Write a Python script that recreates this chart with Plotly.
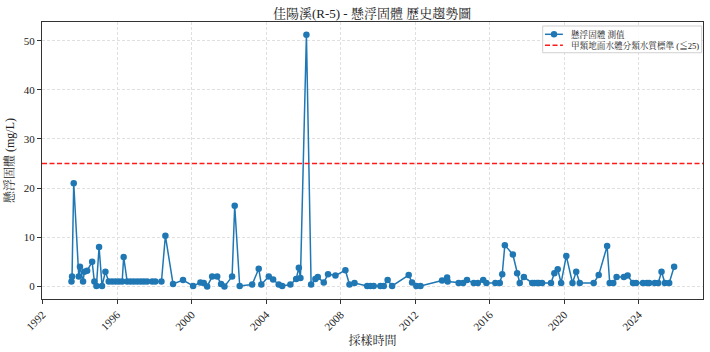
import plotly.graph_objects as go

dates = [
    "1993-07-20", "1993-07-31", "1993-09-02", "1993-12-10", "1994-01-02", "1994-03-04",
    "1994-03-29", "1994-05-23", "1994-08-29", "1994-10-12", "1994-11-21", "1995-01-12",
    "1995-03-11", "1995-05-16", "1995-07-20", "1995-09-24", "1995-11-28", "1996-02-03",
    "1996-04-09", "1996-05-08", "1996-07-16", "1996-09-20", "1996-11-24", "1997-01-30",
    "1997-04-06", "1997-06-07", "1997-08-11", "1997-11-18", "1998-01-19", "1998-05-19",
    "1998-08-04", "1999-01-01", "1999-07-16", "2000-01-30", "2000-06-21", "2000-08-26",
    "2000-10-31", "2001-02-06", "2001-05-16", "2001-07-31", "2001-10-05", "2002-03-04",
    "2002-04-24", "2002-07-31", "2003-04-02", "2003-08-08", "2003-09-28", "2004-02-21",
    "2004-05-16", "2004-09-02", "2004-11-10", "2005-04-20", "2005-08-11", "2005-10-02",
    "2005-11-03", "2006-02-28", "2006-05-31", "2006-08-22", "2006-10-09", "2007-02-03",
    "2007-04-28", "2007-09-20", "2008-04-02", "2008-06-21", "2008-09-28", "2009-06-03",
    "2009-08-08", "2009-10-09", "2010-02-17", "2010-04-24", "2010-07-09", "2010-10-05",
    "2011-08-26", "2011-10-31", "2012-01-23", "2012-04-13", "2013-06-10", "2013-09-17",
    "2013-09-28", "2014-05-01", "2014-07-27", "2014-10-12", "2015-02-21", "2015-05-12",
    "2015-08-26", "2015-10-27", "2016-04-20", "2016-07-16", "2016-09-02", "2016-10-23",
    "2017-03-29", "2017-06-21", "2017-08-11", "2017-10-31", "2018-04-13", "2018-05-27",
    "2018-07-16", "2018-08-19", "2018-10-23", "2019-04-16", "2019-06-21", "2019-08-26",
    "2019-10-31", "2020-02-10", "2020-06-10", "2020-08-22", "2020-10-31", "2021-07-31",
    "2021-11-06", "2022-04-20", "2022-06-10", "2022-08-19", "2022-10-23", "2023-03-15",
    "2023-05-27", "2023-09-09", "2023-11-10", "2024-03-22", "2024-06-07", "2024-07-24",
    "2024-11-10", "2025-01-16", "2025-03-22", "2025-05-27", "2025-08-19", "2025-11-24",
]
values = [
    1.0, 2.0, 21.0, 2.0, 4.0, 1.0,
    3.0, 3.2, 5.0, 1.0, 0.1, 8.0,
    0.1, 3.0, 1.0, 1.0, 1.0, 1.0,
    1.0, 6.0, 1.0, 1.0, 1.0, 1.0,
    1.0, 1.0, 1.0, 1.0, 1.0, 1.0,
    10.3, 0.5, 1.3, 0.1, 0.8, 0.7,
    0.0, 2.0, 2.0, 0.5, 0.0, 2.0,
    16.4, 0.1, 0.4, 3.6, 0.4, 2.0,
    1.4, 0.4, 0.1, 0.4, 1.5, 3.8,
    1.7, 51.2, 0.4, 1.5, 1.9, 0.8,
    2.5, 2.2, 3.3, 0.4, 0.7, 0.1,
    0.1, 0.1, 0.1, 0.1, 1.3, 0.1,
    2.3, 0.8, 0.1, 0.1, 1.2, 1.8,
    1.0, 0.7, 0.7, 1.3, 0.7, 0.7,
    1.3, 0.7, 0.7, 0.7, 2.5, 8.4,
    6.5, 2.7, 0.7, 1.9, 0.7, 0.7,
    0.7, 0.7, 0.7, 0.7, 2.7, 3.5,
    0.7, 6.2, 0.7, 3.0, 0.7, 0.7,
    2.3, 8.2, 0.7, 0.7, 1.9, 1.9,
    2.2, 0.7, 0.7, 0.7, 0.7, 0.7,
    0.7, 0.7, 3.0, 0.7, 0.7, 4.0,
]
standard = 25
x_range = ["1991-12-20", "2027-06-13"]
y_range = [-2.56, 53.8]
year_ticks = [1992, 1996, 2000, 2004, 2008, 2012, 2016, 2020, 2024]
y_ticks = [0, 10, 20, 30, 40, 50]

title = "佳陽溪(R-5) - 懸浮固體 歷史趨勢圖"
series_name = "懸浮固體 測值"
std_name = "甲類地面水體分類水質標準 (≦25)"
x_title = "採樣時間"
y_title = "懸浮固體 (mg/L)"

FONT = "Liberation Serif, Noto Serif CJK TC, Noto Sans CJK TC, serif"
BLUE = "#1f77b4"
RED = "#ff1a1a"
STD_DASH = "5px,2.5px"

fig = go.Figure()
fig.add_trace(go.Scatter(
    x=dates, y=values, mode="lines+markers", name=series_name,
    line=dict(color=BLUE, width=1.5),
    marker=dict(color=BLUE, size=6.5),
    showlegend=False,
))
fig.add_trace(go.Scatter(
    x=x_range, y=[standard, standard], mode="lines", name=std_name,
    line=dict(color=RED, width=1.4, dash=STD_DASH),
    showlegend=False,
))

# compact matplotlib-style legend (paper coords of the plot area)
lx0, lx1, ly0, ly1 = 0.7575, 0.998, 0.889, 0.9856
row_y = [0.9556, 0.9159]
sx0, sx1, sxm, tx = 0.761, 0.788, 0.7746, 0.7977
shapes = [
    dict(type="rect", xref="paper", yref="paper", x0=lx0, x1=lx1, y0=ly0, y1=ly1,
         line=dict(color="#d0d0d0", width=1), fillcolor="rgba(255,255,255,0.85)", layer="above"),
    dict(type="line", xref="paper", yref="paper", x0=sx0, x1=sx1, y0=row_y[0], y1=row_y[0],
         line=dict(color=BLUE, width=1.5), layer="above"),
    dict(type="circle", xref="paper", yref="paper", xsizemode="pixel", ysizemode="pixel",
         xanchor=sxm, yanchor=row_y[0], x0=-3.2, x1=3.2, y0=-3.2, y1=3.2,
         fillcolor=BLUE, line=dict(color=BLUE, width=0), layer="above"),
    dict(type="line", xref="paper", yref="paper", x0=sx0, x1=sx1, y0=row_y[1], y1=row_y[1],
         line=dict(color=RED, width=1.4, dash=STD_DASH), layer="above"),
]
annotations = [
    dict(xref="paper", yref="paper", x=tx, y=row_y[i], text=t, showarrow=False,
         xanchor="left", yanchor="middle", font=dict(size=8.6, color="#222"))
    for i, t in enumerate([series_name, std_name])
]

fig.update_layout(
    width=710, height=352,
    margin=dict(l=42, r=7, t=22, b=53),
    paper_bgcolor="white", plot_bgcolor="white",
    font=dict(family=FONT, size=11, color="#222"),
    title=dict(text=title, x=0.524, xanchor="center", y=0.975, yanchor="top",
               font=dict(size=13, color="#222")),
    shapes=shapes, annotations=annotations,
    showlegend=False,
)
grid = dict(showgrid=True, gridcolor="#e0e0e0", griddash="3px,2px", gridwidth=0.8)
fig.update_xaxes(
    type="date", range=x_range,
    tickvals=[f"{y}-01-01" for y in year_ticks],
    ticktext=[str(y) for y in year_ticks],
    tickangle=-45, tickfont=dict(size=11),
    ticks="outside", ticklen=4, tickcolor="#333",
    showline=True, linecolor="#333", linewidth=1, mirror=True,
    zeroline=False, **grid,
    title=dict(text=x_title, font=dict(size=12), standoff=4),
)
fig.update_yaxes(
    range=y_range, tickvals=y_ticks,
    tickfont=dict(size=11),
    ticks="outside", ticklen=4, tickcolor="#333",
    showline=True, linecolor="#333", linewidth=1, mirror=True,
    zeroline=False, **grid,
    title=dict(text=y_title, font=dict(size=12), standoff=6),
)

fig.write_html("out.html")
